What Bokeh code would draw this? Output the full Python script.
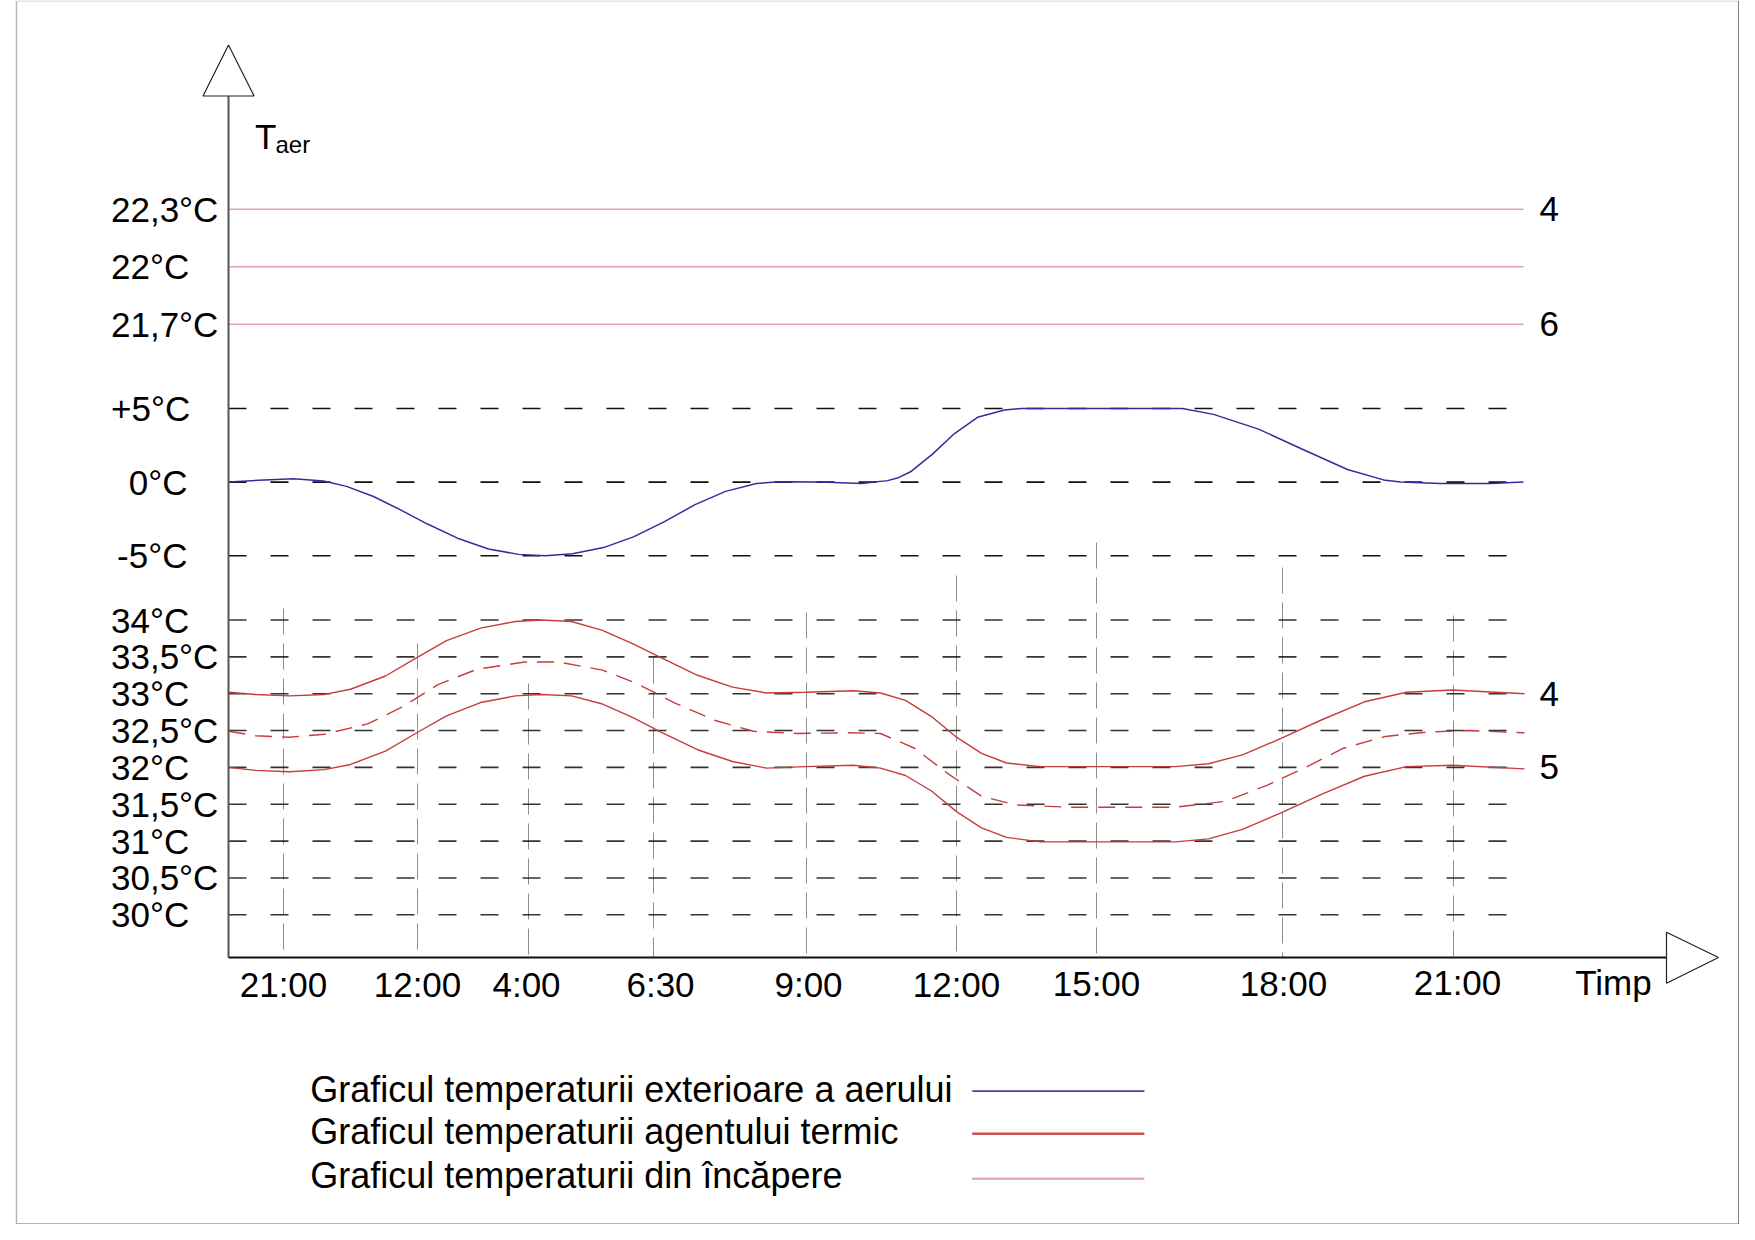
from bokeh.plotting import figure
from bokeh.models import Range1d
from bokeh.core.properties import value
from bokeh.embed import file_html
from bokeh.resources import INLINE

# ---------------- data ----------------
# hour marks on the time axis (position along the axis, from its origin)
time_labels = ["21:00", "12:00", "4:00", "6:30", "9:00", "12:00", "15:00", "18:00", "21:00"]
time_pos = [55, 189, 300, 425, 578, 728, 868, 1054, 1225]

# temperature scales (three stacked scales on one vertical axis)
room_levels = [22.3, 22.0, 21.7]
room_labels = ["22,3°C", "22°C", "21,7°C"]
out_levels = [5, 0, -5]
out_labels = ["+5°C", "0°C", "-5°C"]
agent_levels = [34, 33.5, 33, 32.5, 32, 31.5, 31, 30.5, 30]
agent_labels = ["34°C", "33,5°C", "33°C", "32,5°C", "32°C", "31,5°C", "31°C", "30,5°C", "30°C"]

# outdoor air temperature (°C)
out_t = [0, 30, 65, 95, 118, 145, 172, 199, 229, 260,
         290, 317, 344, 375, 405, 436, 466, 497, 528, 551,
         592, 633, 659, 670, 682, 704, 726, 749, 776, 793, 954,
         985, 1030, 1075, 1119, 1155, 1172, 1212, 1262, 1295]
out_v = [0.0, 0.12, 0.22, 0.08, -0.29, -0.98, -1.89, -2.85, -3.81, -4.55,
         -4.91, -5.0, -4.87, -4.45, -3.72, -2.69, -1.55, -0.63, -0.10, 0.03,
         0.0, -0.1, 0.1, 0.3, 0.7, 1.9, 3.3, 4.4, 4.9, 5.0, 5.0,
         4.6, 3.6, 2.2, 0.86, 0.15, 0.0, -0.1, -0.1, 0.0]

# heating agent temperature: supply (upper) and return (lower), °C
agent_t = [0, 27, 61, 96, 122, 157, 187, 218, 252, 287,
           313, 343, 374, 404, 434, 469, 504, 538, 577, 625,
           652, 677, 703, 728, 753, 778, 812, 947, 980, 1014,
           1052, 1094, 1136, 1178, 1224, 1296]
agent_hi = [33.02, 32.99, 32.97, 32.99, 33.06, 33.24, 33.48, 33.72, 33.89, 33.98,
            34.0, 33.98, 33.86, 33.68, 33.48, 33.25, 33.09, 33.01, 33.02, 33.04,
            33.01, 32.91, 32.69, 32.41, 32.19, 32.06, 32.01, 32.01, 32.05, 32.17,
            32.39, 32.65, 32.89, 33.02, 33.05, 33.0]
agent_lo = [32.00, 31.96, 31.94, 31.97, 32.04, 32.22, 32.46, 32.70, 32.88, 32.97,
            32.99, 32.97, 32.86, 32.68, 32.47, 32.24, 32.08, 31.99, 32.01, 32.03,
            31.99, 31.89, 31.68, 31.40, 31.18, 31.05, 30.99, 30.99, 31.03, 31.16,
            31.38, 31.64, 31.88, 32.01, 32.03, 31.98]

# mean agent temperature (dashed), °C
mid_t = [0, 27, 61, 96, 139, 174, 209, 248, 296, 330,
         374, 408, 447, 486, 525, 569, 621, 652, 686, 719,
         753, 787, 841, 947, 997, 1039, 1077, 1115, 1157, 1199,
         1241, 1296]
mid_v = [32.49, 32.43, 32.41, 32.45, 32.59, 32.82, 33.12, 33.33, 33.43, 33.43,
         33.32, 33.14, 32.87, 32.64, 32.49, 32.46, 32.47, 32.46, 32.26, 31.92,
         31.61, 31.49, 31.46, 31.46, 31.54, 31.76, 32.00, 32.26, 32.42, 32.48,
         32.50, 32.47]

# curve labels on the right
right_room = [(22.3, "4"), (21.7, "6")]
right_agent = [(33.0, "4"), (32.0, "5")]

legend_items = ["Graficul temperaturii exterioare a aerului",
                "Graficul temperaturii agentului termic",
                "Graficul temperaturii din încăpere"]

# ---------------- layout / style ----------------
W, H = 1739, 1224
FONT = value("Liberation Sans")
BLUE = "#2f2f9c"
RED = "#c83c3c"
PINK = "#e2a2a8"
GRID = "#111111"
VGRID = "#8c8c8c"

X_END = 1295  # end of reference lines along the time axis


def lin_range(v1, y1, v2, y2):
    # vertical range so that value v1 sits at canvas row y1 and v2 at row y2
    b = (y2 - y1) / (v1 - v2)
    top_v = v1 + y1 / b
    bot_v = v1 - (H - y1) / b
    return Range1d(start=bot_v, end=top_v)


p = figure(width=W, height=H, x_range=Range1d(-228, W - 228),
           y_range=Range1d(H, 0),
           output_backend="svg", toolbar_location=None,
           x_axis_type=None, y_axis_type=None, min_border=0,
           outline_line_color=None, background_fill_color="white",
           border_fill_color="white")
p.grid.visible = False
p.extra_y_ranges = {
    "room": lin_range(22.3, 208.8, 21.7, 323.7),
    "out": lin_range(5, 408.0, -5, 555.2),
    "agent": lin_range(34, 619.5, 30, 914.3),
}

# page border
p.segment(x0=[-212], y0=[0.5], x1=[-212], y1=[1223.5], line_color="#b8b8b8", line_width=1.5)
p.segment(x0=[-212], y0=[0.5], x1=[1510.5], y1=[0.5], line_color="#c8c8c8", line_width=1)
p.segment(x0=[-212], y0=[1223.5], x1=[1510.5], y1=[1223.5], line_color="#9a9a9a", line_width=1.5)
p.segment(x0=[1510.5], y0=[0.5], x1=[1510.5], y1=[1223.5], line_color="#5a5a5a", line_width=1.5)

# vertical dashed time lines
v_top = [608, 643, 683, 657, 612, 575, 542, 567, 615]
p.segment(x0=time_pos, y0=v_top, x1=time_pos, y1=[957] * len(time_pos),
          line_color=VGRID, line_width=1, line_dash="26 9")

# horizontal reference lines
p.segment(x0=[0] * 3, y0=room_levels, x1=[X_END] * 3, y1=room_levels,
          line_color=PINK, line_width=1.5, y_range_name="room")
p.segment(x0=[0] * 3, y0=out_levels, x1=[X_END] * 3, y1=out_levels,
          line_color=GRID, line_width=1.6, line_dash="18 24", y_range_name="out")
p.segment(x0=[0] * len(agent_levels), y0=agent_levels, x1=[X_END] * len(agent_levels),
          y1=agent_levels, line_color=GRID, line_width=1.6, line_dash="18 24",
          line_alpha=0.85, y_range_name="agent")

# curves
p.line(out_t, out_v, line_color=BLUE, line_width=1.5, y_range_name="out")
p.line(agent_t, agent_hi, line_color=RED, line_width=1.4, y_range_name="agent")
p.line(agent_t, agent_lo, line_color=RED, line_width=1.4, y_range_name="agent")
p.line(mid_t, mid_v, line_color=RED, line_width=1.4, line_dash="17 10", y_range_name="agent")

# axes with open arrow heads
p.segment(x0=[0], y0=[95.5], x1=[0], y1=[957], line_color="#555555", line_width=2)
p.segment(x0=[0], y0=[957], x1=[1438], y1=[957], line_color="#111111", line_width=2)
p.patch([-25.5, 0, 25.6], [95.5, 44.6, 95.5], fill_color="white",
        line_color="#222222", line_width=1.2)
p.patch([1438, 1490, 1438], [931.7, 957, 982.7], fill_color="white",
        line_color="#222222", line_width=1.2)


# y tick labels
def ylabels(levels, labels, rng, right_aligned=()):
    for lv, lb in zip(levels, labels):
        if lb in right_aligned:
            p.text(x=[-41], y=[lv], text=[lb], text_font=FONT, text_font_size="35px",
                   text_align="right", text_baseline="middle", text_color="black",
                   y_range_name=rng)
        else:
            p.text(x=[-117.5], y=[lv], text=[lb], text_font=FONT, text_font_size="35px",
                   text_align="left", text_baseline="middle", text_color="black",
                   y_range_name=rng)


ylabels(room_levels, room_labels, "room")
ylabels(out_levels, out_labels, "out", right_aligned=("0°C", "-5°C"))
ylabels(agent_levels, agent_labels, "agent")

# right-hand curve numbers
p.text(x=[1311] * 2, y=[r[0] for r in right_room], text=[r[1] for r in right_room],
       text_font=FONT, text_font_size="35px", text_align="left", text_baseline="middle",
       text_color="black", y_range_name="room")
p.text(x=[1311] * 2, y=[r[0] for r in right_agent], text=[r[1] for r in right_agent],
       text_font=FONT, text_font_size="35px", text_align="left", text_baseline="middle",
       text_color="black", y_range_name="agent")

# x tick labels
label_shift = [0, 0, -2, 7, 2, 0, 0, 1, 4]
label_y = [984, 984, 984, 984, 984, 984, 983, 983, 982]
p.text(x=[t + s for t, s in zip(time_pos, label_shift)], y=label_y,
       text=time_labels, text_font=FONT, text_font_size="35px", text_align="center",
       text_baseline="middle", text_color="black")
p.text(x=[1385], y=[982], text=["Timp"], text_font=FONT, text_font_size="35px",
       text_align="center", text_baseline="middle", text_color="black")

# axis title T_aer
p.text(x=[26.5], y=[135.5], text=["T"], text_font=FONT, text_font_size="35px",
       text_align="left", text_baseline="middle", text_color="black")
p.text(x=[47], y=[143.5], text=["aer"], text_font=FONT, text_font_size="24px",
       text_align="left", text_baseline="middle", text_color="black")

# legend (text then line sample)
leg_y = [1088.5, 1131, 1174.5]
leg_line_y = [1090.7, 1133.3, 1178.3]
p.text(x=[81.7] * 3, y=leg_y, text=legend_items, text_font=FONT, text_font_size="36px",
       text_align="left", text_baseline="middle", text_color="black")
for yy, col, lw in zip(leg_line_y, [BLUE, RED, PINK], [1.8, 2.6, 2.6]):
    p.segment(x0=[743.7], y0=[yy], x1=[915.9], y1=[yy], line_color=col, line_width=lw,
              line_alpha=0.9)

open("out.html", "w").write(file_html(p, INLINE))
